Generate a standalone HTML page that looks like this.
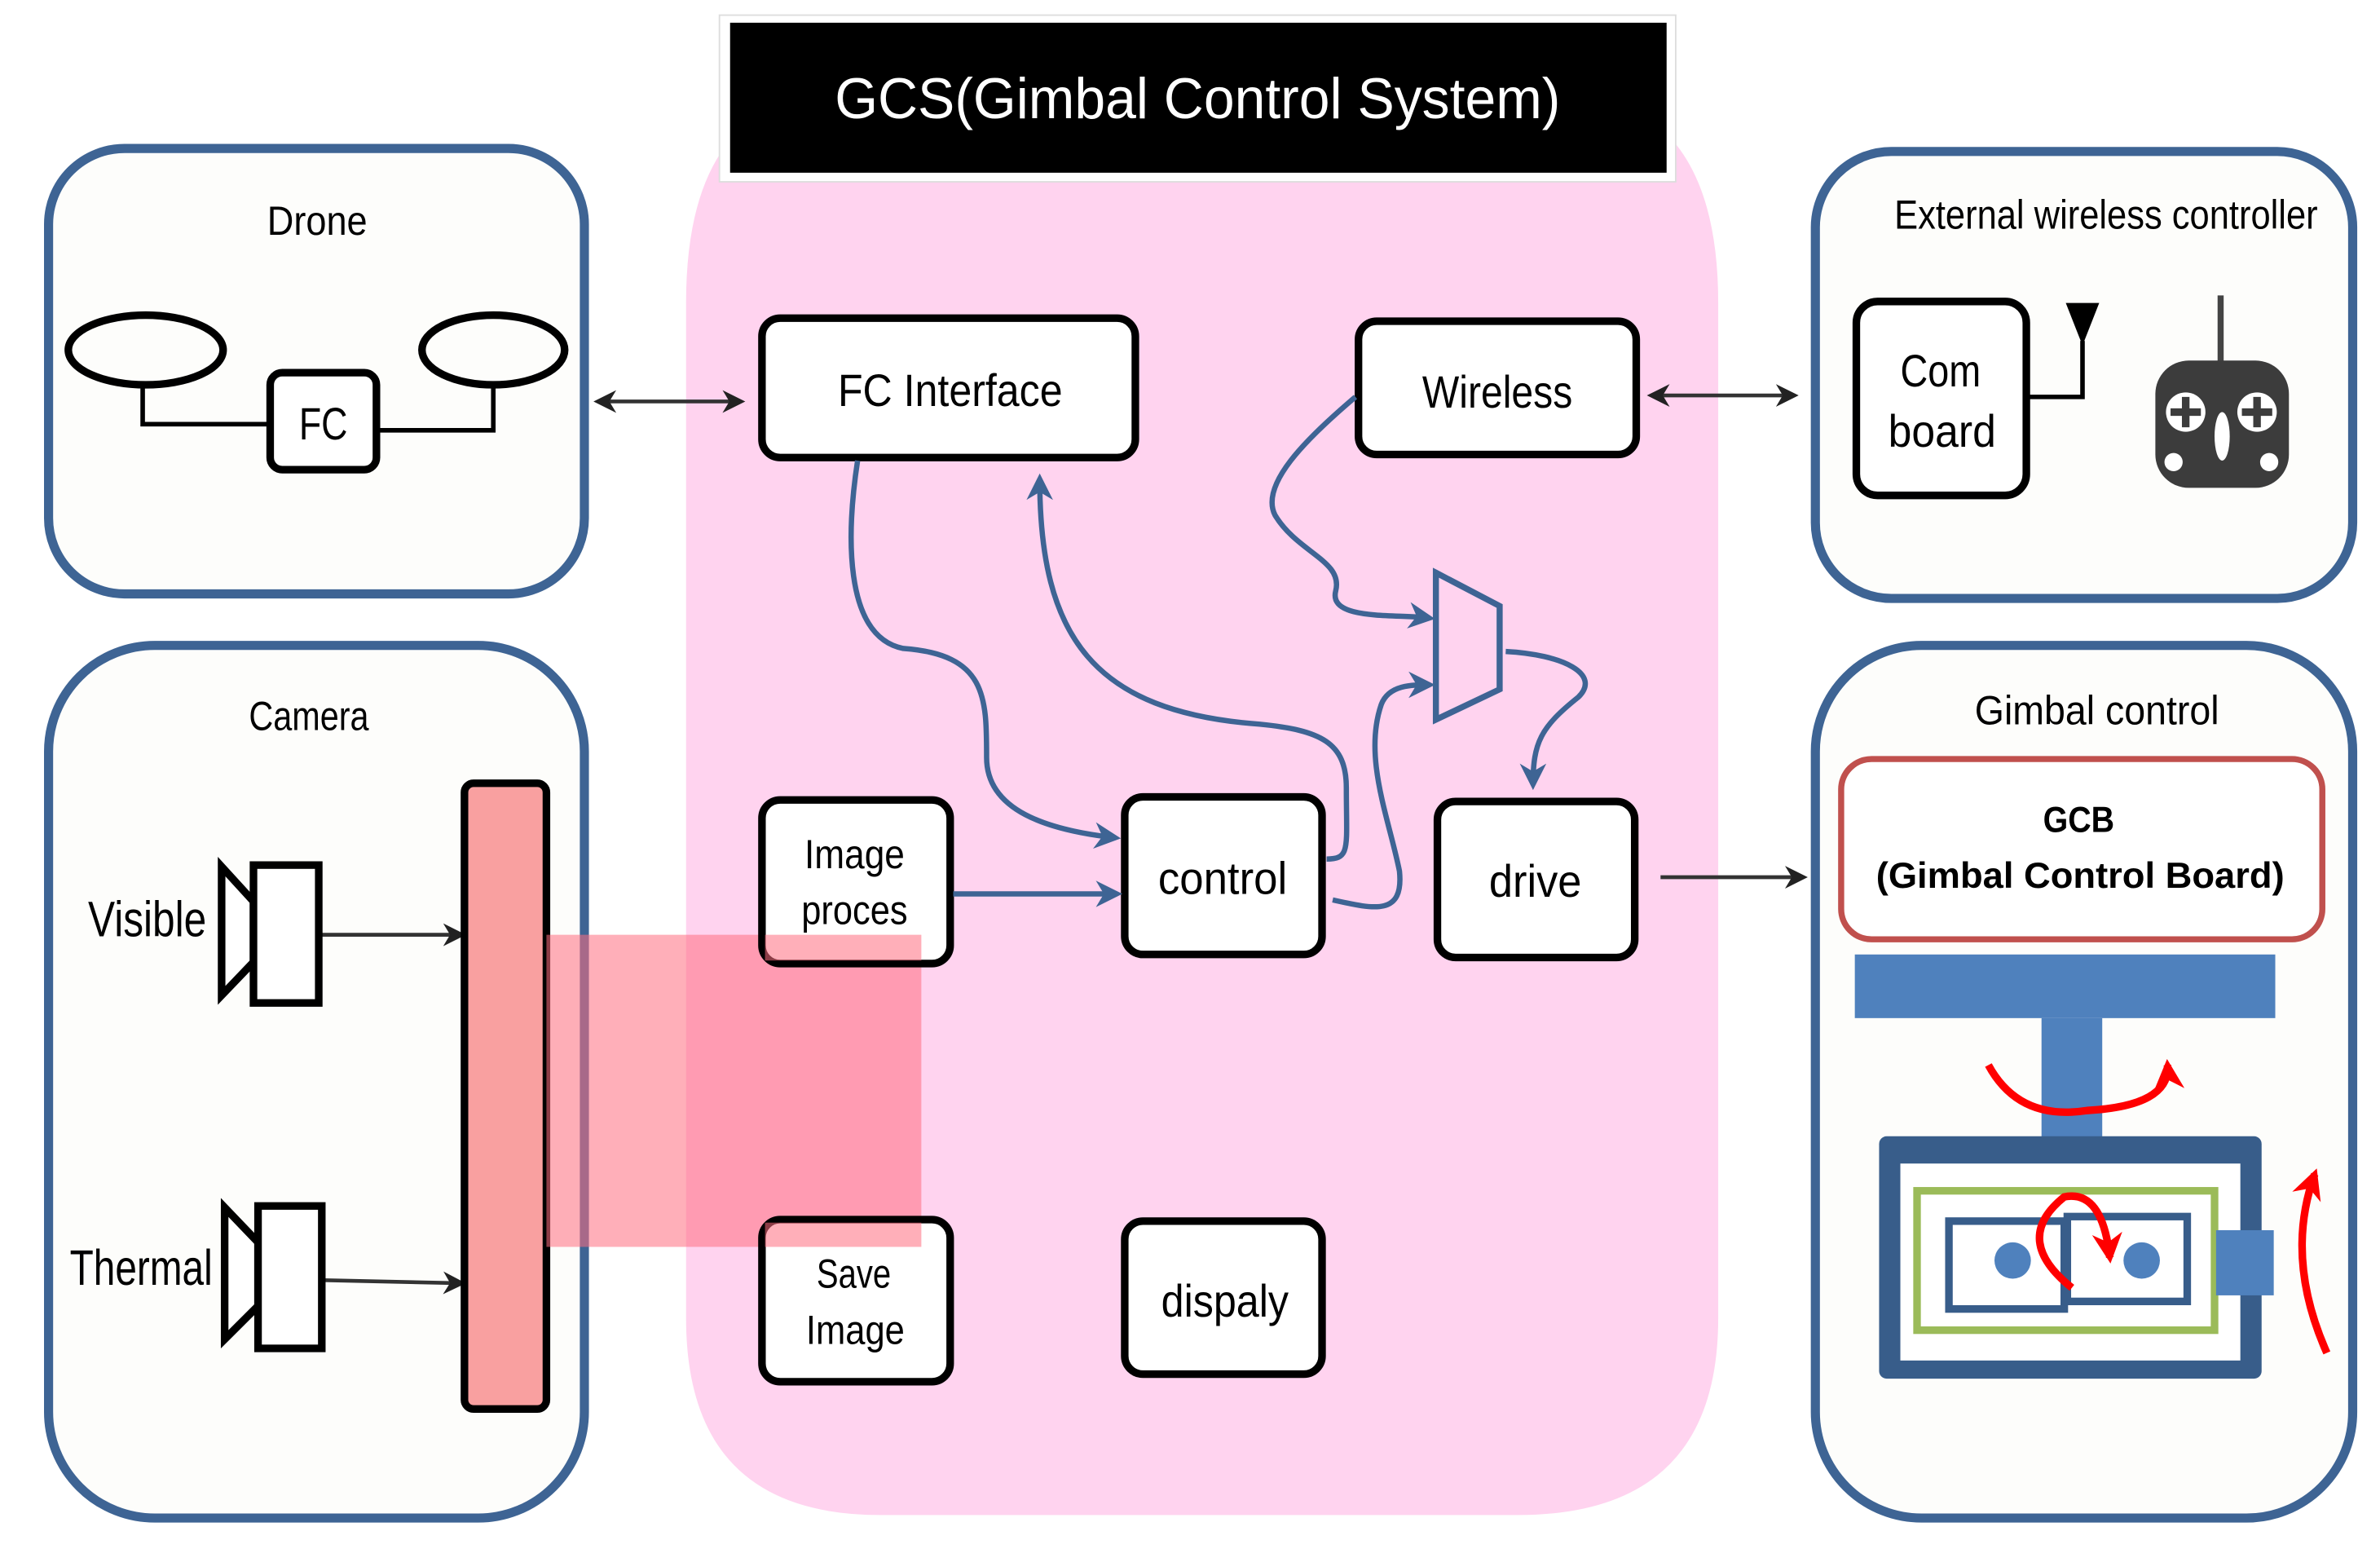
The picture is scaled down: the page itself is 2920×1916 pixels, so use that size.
<!DOCTYPE html>
<html><head><meta charset="utf-8"><style>
html,body{margin:0;padding:0;background:#fff;overflow:hidden;}
svg{display:block;}
text{font-family:"Liberation Sans",sans-serif;}
</style></head><body>
<svg width="2920" height="1916" viewBox="0 0 1568 1031" preserveAspectRatio="none" xmlns="http://www.w3.org/2000/svg">
<defs>
<marker id="ab" viewBox="0 0 10 10" refX="8" refY="5" markerWidth="5" markerHeight="5" orient="auto-start-reverse"><path d="M0,0 L10,5 L0,10 L3,5 z" fill="#3E6494"/></marker>
<marker id="ak" viewBox="0 0 10 10" refX="8" refY="5" markerWidth="6" markerHeight="6" orient="auto-start-reverse"><path d="M0,0 L10,5 L0,10 L3,5 z" fill="#222"/></marker>
<marker id="ar" viewBox="0 0 10 10" refX="8" refY="5" markerWidth="4" markerHeight="4" orient="auto"><path d="M0,0 L10,5 L0,10 L3,5 z" fill="#f00"/></marker>
</defs>
<rect width="1568" height="1031" fill="#fff"/>
<path d="M452,200 Q452,60 560,60 L1020,60 Q1132,60 1132,200 L1132,870 Q1132,1000 1000,1000 L580,1000 Q452,1000 452,870 Z" fill="#FFD3EF"/>
<rect x="474" y="10" width="630" height="110" fill="#fff" stroke="#ddd" stroke-width="1"/>
<rect x="481" y="15" width="617" height="99" fill="#000"/>
<text x="550" y="78" font-size="38" fill="#fff" textLength="478" lengthAdjust="spacingAndGlyphs">GCS(Gimbal Control System)</text>

<g fill="#FDFDFB" stroke="#3E6494" stroke-width="6">
<rect x="32" y="98" width="353" height="294" rx="50"/>
<rect x="32" y="426" width="353" height="576" rx="70"/>
<rect x="1196" y="100" width="354" height="295" rx="50"/>
<rect x="1196" y="426" width="354" height="576" rx="70"/>
</g>
<g font-size="27">
<text x="176" y="155" textLength="66" lengthAdjust="spacingAndGlyphs">Drone</text>
<text x="164" y="482" textLength="79" lengthAdjust="spacingAndGlyphs">Camera</text>
<text x="1248" y="151" textLength="279" lengthAdjust="spacingAndGlyphs">External wireless controller</text>
<text x="1301" y="478" textLength="161" lengthAdjust="spacingAndGlyphs">Gimbal control</text>
</g>

<g fill="none" stroke="#000">
<ellipse cx="96" cy="231" rx="51" ry="23" stroke-width="5"/>
<ellipse cx="325" cy="231" rx="47" ry="23" stroke-width="5"/>
<path d="M94,254 V280 H178 M248,284 H325 V254" stroke-width="3"/>
<rect x="178" y="246" width="70" height="64" rx="8" stroke-width="5" fill="#fff"/>
</g>
<text x="197" y="290" font-size="30" textLength="32" lengthAdjust="spacingAndGlyphs">FC</text>

<g stroke="#333" stroke-width="2.5" fill="none">
<line x1="394" y1="265" x2="488" y2="265" marker-start="url(#ak)" marker-end="url(#ak)"/>
<line x1="1088" y1="261" x2="1182" y2="261" marker-start="url(#ak)" marker-end="url(#ak)"/>
<line x1="1094" y1="579" x2="1188" y2="579" marker-end="url(#ak)"/>
<line x1="212" y1="617" x2="304" y2="617" marker-end="url(#ak)"/>
<line x1="213" y1="845" x2="304" y2="847" marker-end="url(#ak)"/>
</g>

<rect x="306" y="517" width="54" height="413" rx="6" fill="#F9A0A0" stroke="#000" stroke-width="5"/>
<g fill="#fff" stroke="#000" stroke-width="5">
<path d="M146,572 L167,595 V635 L146,657 Z"/>
<rect x="167" y="571" width="43" height="91"/>
<path d="M148,797 L170,820 V862 L148,884 Z"/>
<rect x="170" y="796" width="42" height="94"/>
</g>
<text x="58" y="618" font-size="33" textLength="78" lengthAdjust="spacingAndGlyphs">Visible</text>
<text x="46" y="848" font-size="33" textLength="94" lengthAdjust="spacingAndGlyphs">Thermal</text>

<rect x="1223" y="199" width="112" height="128" rx="14" fill="#fff" stroke="#000" stroke-width="5"/>
<text x="1252" y="255" font-size="30" textLength="53" lengthAdjust="spacingAndGlyphs">Com</text>
<text x="1244" y="295" font-size="30" textLength="71" lengthAdjust="spacingAndGlyphs">board</text>
<path d="M1335,262 H1372 V225" fill="none" stroke="#000" stroke-width="3"/>
<path d="M1361,200 H1383 L1372,228 Z" fill="#000"/>
<g>
<line x1="1463" y1="195" x2="1463" y2="240" stroke="#444" stroke-width="4"/>
<rect x="1420" y="238" width="88" height="84" rx="22" fill="#3C3C3C"/>
<circle cx="1440" cy="272" r="13" fill="#fff"/><circle cx="1487" cy="272" r="13" fill="#fff"/>
<path d="M1440,262v20M1430,272h20M1487,262v20M1477,272h20" stroke="#3C3C3C" stroke-width="5"/>
<ellipse cx="1464" cy="288" rx="5" ry="16" fill="#fff"/>
<circle cx="1432" cy="305" r="6" fill="#fff"/><circle cx="1495" cy="305" r="6" fill="#fff"/>
</g>

<rect x="1213" y="501" width="317" height="119" rx="20" fill="#fff" stroke="#C0504D" stroke-width="4"/>
<text x="1346" y="549" font-size="24" font-weight="bold" textLength="47" lengthAdjust="spacingAndGlyphs">GCB</text>
<text x="1236" y="586" font-size="24" font-weight="bold" textLength="269" lengthAdjust="spacingAndGlyphs">(Gimbal Control Board)</text>
<rect x="1222" y="630" width="277" height="42" fill="#4F81BD"/>
<rect x="1345" y="672" width="40" height="80" fill="#4F81BD"/>
<rect x="1238" y="750" width="252" height="160" rx="5" fill="#385D8A"/>
<rect x="1252" y="768" width="224" height="130" fill="#fff"/>
<rect x="1263" y="786" width="196" height="92" fill="none" stroke="#9BBB59" stroke-width="5"/>
<rect x="1284" y="806" width="76" height="58" fill="none" stroke="#385D8A" stroke-width="5"/>
<rect x="1362" y="803" width="79" height="56" fill="none" stroke="#385D8A" stroke-width="5"/>
<circle cx="1326" cy="832" r="12" fill="#4F81BD"/><circle cx="1411" cy="832" r="12" fill="#4F81BD"/>
<rect x="1460" y="812" width="38" height="43" fill="#4F81BD"/>
<g fill="none" stroke="#f00" stroke-width="5">
<path d="M1310,703 Q1330,740 1375,733 Q1430,730 1428,703" marker-end="url(#ar)"/>
<path d="M1365,850 Q1325,818 1360,790 Q1385,785 1390,830" marker-end="url(#ar)"/>
<path d="M1533,893 Q1505,830 1525,775" marker-end="url(#ar)"/>
</g>

<rect x="360" y="617" width="247" height="206" fill="#FF6E80" opacity="0.55"/>

<g fill="#fff" stroke="#000" stroke-width="5">
<rect x="502" y="210" width="246" height="92" rx="12"/>
<rect x="895" y="212" width="183" height="88" rx="12"/>
<rect x="741" y="526" width="130" height="104" rx="12"/>
<rect x="947" y="529" width="130" height="103" rx="12"/>
<rect x="502" y="805" width="124" height="107" rx="12"/>
<rect x="741" y="806" width="130" height="101" rx="12"/>
<rect x="502" y="528" width="124" height="108" rx="12"/>
</g>
<rect x="504" y="617" width="103" height="17" fill="#FF6E80" opacity="0.55"/>
<rect x="504" y="807" width="103" height="16" fill="#FF6E80" opacity="0.55"/>
<g font-size="30">
<text x="552" y="268" textLength="148" lengthAdjust="spacingAndGlyphs">FC Interface</text>
<text x="937" y="269" textLength="99" lengthAdjust="spacingAndGlyphs">Wireless</text>
<text x="763" y="590" textLength="85" lengthAdjust="spacingAndGlyphs">control</text>
<text x="981" y="592" textLength="61" lengthAdjust="spacingAndGlyphs">drive</text>
<text x="765" y="869" textLength="84" lengthAdjust="spacingAndGlyphs">dispaly</text>
</g>
<g font-size="27">
<text x="530" y="573" textLength="66" lengthAdjust="spacingAndGlyphs">Image</text>
<text x="528" y="610" textLength="70" lengthAdjust="spacingAndGlyphs">proces</text>
<text x="538" y="850" textLength="49" lengthAdjust="spacingAndGlyphs">Save</text>
<text x="531" y="887" textLength="65" lengthAdjust="spacingAndGlyphs">Image</text>
</g>

<path d="M946,378 L988,400 L988,455 L946,475 Z" fill="#FFD3EF" stroke="#3E6494" stroke-width="4"/>

<g fill="none" stroke="#3E6494" stroke-width="3.5">
<path d="M565,304 C558,350 555,420 595,428 C650,432 650,460 650,500 C650,535 690,548 735,553" marker-end="url(#ab)"/>
<path d="M874,567 C890,567 887,560 887,520 C887,490 870,482 830,478 C720,470 685,420 685,316" marker-end="url(#ab)"/>
<path d="M893,262 C860,290 830,320 840,340 C855,365 885,370 880,390 C875,410 920,405 942,408" marker-end="url(#ab)"/>
<path d="M878,594 C905,600 925,605 922,575 C915,540 898,500 910,465 C915,452 930,452 942,452" marker-end="url(#ab)"/>
<path d="M992,430 C1030,432 1055,445 1040,460 C1015,480 1010,490 1010,518" marker-end="url(#ab)"/>
<path d="M628,590 L736,590" marker-end="url(#ab)"/>
</g>
</svg>
</body></html>
